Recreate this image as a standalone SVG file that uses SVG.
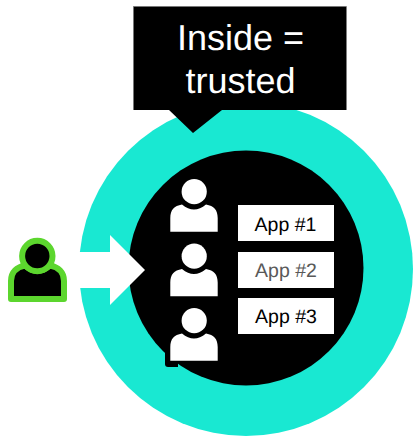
<svg xmlns="http://www.w3.org/2000/svg" width="413" height="437" viewBox="0 0 413 437">
<style>
.wp{fill:#fff}
.app{fill:#fff}
.t{font-family:"Liberation Sans",Arial,sans-serif;text-anchor:middle;text-rendering:geometricPrecision}
.lbl{font-size:19.5px;fill:#000}
.big{font-size:36px;fill:#fff}
</style>
<defs>
<g id="person"><circle cx="194.200" cy="191.700" r="12.600"/><path d="M170.300 231.700V218C170.300 210 174 206 182 204.500C186 208 190 209.500 194 209.500C198 209.500 202 208 206 204.500C214 206 217.700 210 217.700 218V231.700Z"/></g>
</defs>
<g id="ring"><circle cx="246" cy="269" r="167" fill="#19e8d2"/><circle cx="246" cy="268" r="117.500" fill="#000"/><path d="M165 345V364Q165 367 168 367H178V345Z" fill="#000"/></g>
<g id="connectors"><path d="M76 252H110V235L145 270L110 305V288H76Z" fill="#fff"/></g>
<g id="callout"><path d="M133.500 6.500H346.500V110H222L193 133L169 110H133.500Z" fill="#000"/><path d="M133.500 110V6.500H346.500" fill="none" stroke="#777" stroke-width="1"/>
<text class="t big" x="240.500" y="50">Inside =</text><text class="t big" x="240.500" y="92.500">trusted</text></g>
<g id="user-1" class="wp"><use href="#person"/></g>
<g id="user-2" class="wp"><use href="#person" y="64.500"/></g>
<g id="user-3" class="wp"><use href="#person" y="129"/></g>
<g id="app-1"><rect class="app" x="238" y="205" width="96" height="36"/><text class="t lbl" x="285.500" y="230.700">App #1</text></g>
<g id="app-2"><rect class="app" x="238" y="252" width="96" height="36"/><text class="t lbl" x="286" y="277.300" style="fill:#595959">App #2</text></g>
<g id="app-3"><rect class="app" x="238" y="298" width="96" height="36"/><text class="t lbl" x="286" y="323.300">App #3</text></g>
<g id="outsider"><path d="M11 299V281C11 272 17 267 25 265.500C29 269 33 271 37 271C42 271 46 269 50 265.500C58 267 64 272 64 281V299Z" fill="#000" stroke="#5cd62e" stroke-width="6" stroke-linejoin="round"/><circle cx="37.300" cy="256" r="15.200" fill="#000" stroke="#5cd62e" stroke-width="6"/></g>
</svg>
